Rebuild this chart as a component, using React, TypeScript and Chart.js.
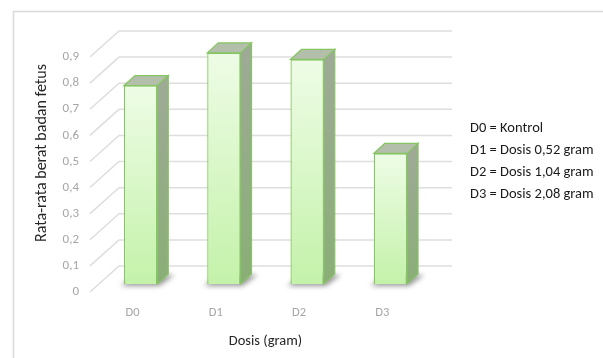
import React, { useEffect, useRef } from 'react';
import { Chart, registerables } from 'chart.js';

Chart.register(...registerables);

// Mean fetal body weight per dose group
const categories = ['D0', 'D1', 'D2', 'D3'];
const beratFetus = [0.76, 0.885, 0.86, 0.5];
const yTickValues = [0, 0.1, 0.2, 0.3, 0.4, 0.5, 0.6, 0.7, 0.8, 0.9];
const legendLines = [
  'D0 = Kontrol',
  'D1 = Dosis 0,52 gram',
  'D2 = Dosis 1,04 gram',
  'D3 = Dosis 2,08 gram',
];
const xTitle = 'Dosis (gram)';
const yTitle = 'Rata-rata berat badan fetus';

const FONT = "Carlito, Lato, 'Open Sans', sans-serif";

// pseudo-3D offsets (pixels) relative to the plane of the bar fronts
const BAR_DX = 11;
const BAR_DY = -10;
const BACK_DX = 20;
const BACK_DY = -18;
const FRONT_DX = -9;
const FRONT_DY = 8;

const fmt = (v: number) => (v === 0 ? '0' : v.toFixed(1).replace('.', ','));

const depthPlugin = {
  id: 'depth3d',
  beforeDraw(chart: any) {
    const { ctx, width, height } = chart;
    ctx.save();
    ctx.fillStyle = '#ffffff';
    ctx.fillRect(0, 0, width, height);
    ctx.strokeStyle = '#d9d9d9';
    ctx.lineWidth = 1.5;
    ctx.beginPath();
    ctx.moveTo(13.5, height + 2);
    ctx.lineTo(13.5, 11.5);
    ctx.lineTo(width + 2, 11.5);
    ctx.stroke();
    ctx.restore();
  },
  beforeDatasetsDraw(chart: any) {
    const { ctx, chartArea } = chart;
    const yScale = chart.scales.y;
    ctx.save();
    // back wall gridlines and side diagonals
    ctx.strokeStyle = '#dedede';
    ctx.lineWidth = 1.5;
    yTickValues.forEach((v) => {
      const y = yScale.getPixelForValue(v);
      ctx.beginPath();
      ctx.moveTo(chartArea.left + FRONT_DX, y + FRONT_DY);
      ctx.lineTo(chartArea.left + BACK_DX, y + BACK_DY);
      ctx.lineTo(chartArea.right + BACK_DX, y + BACK_DY);
      ctx.stroke();
    });

    const meta = chart.getDatasetMeta(0);
    meta.data.forEach((bar: any) => {
      const { x, y, base, width } = bar.getProps(['x', 'y', 'base', 'width'], true);
      const x1 = x - width / 2;
      const x2 = x + width / 2;

      // soft shadow on the floor
      ctx.save();
      ctx.filter = 'blur(2.5px)';
      ctx.fillStyle = 'rgba(70,70,70,0.55)';
      ctx.beginPath();
      ctx.moveTo(x1 - 3, base + 2);
      ctx.lineTo(x2 + 2, base + 2);
      ctx.lineTo(x2 + BAR_DX + 6, base + BAR_DY + 1);
      ctx.lineTo(x1 + BAR_DX, base + BAR_DY);
      ctx.closePath();
      ctx.fill();
      ctx.restore();

      // side face
      const sideGrad = ctx.createLinearGradient(0, y, 0, base);
      sideGrad.addColorStop(0, '#9eaa96');
      sideGrad.addColorStop(1, '#8aae77');
      ctx.fillStyle = sideGrad;
      ctx.strokeStyle = '#86c563';
      ctx.lineWidth = 1.2;
      ctx.beginPath();
      ctx.moveTo(x2, y);
      ctx.lineTo(x2 + BAR_DX, y + BAR_DY);
      ctx.lineTo(x2 + BAR_DX, base + BAR_DY);
      ctx.lineTo(x2, base);
      ctx.closePath();
      ctx.fill();
      ctx.stroke();

      // top face
      ctx.fillStyle = '#b3bfaa';
      ctx.beginPath();
      ctx.moveTo(x1, y);
      ctx.lineTo(x1 + BAR_DX, y + BAR_DY);
      ctx.lineTo(x2 + BAR_DX, y + BAR_DY);
      ctx.lineTo(x2, y);
      ctx.closePath();
      ctx.fill();
      ctx.stroke();
    });
    ctx.restore();
  },
  afterDraw(chart: any) {
    const { ctx } = chart;
    ctx.save();
    // vertical axis title
    ctx.fillStyle = '#262626';
    ctx.font = `16px ${FONT}`;
    ctx.textAlign = 'center';
    ctx.textBaseline = 'middle';
    ctx.translate(42, 153);
    ctx.rotate(-Math.PI / 2);
    ctx.fillText(yTitle, 0, 0);
    ctx.restore();

    // dose key
    ctx.save();
    ctx.fillStyle = '#1a1a1a';
    ctx.font = `14.5px ${FONT}`;
    ctx.textAlign = 'left';
    ctx.textBaseline = 'middle';
    legendLines.forEach((line, i) => {
      ctx.fillText(line, 470, 128 + i * 22);
    });
    ctx.restore();
  },
};

export default function App() {
  const canvasRef = useRef<HTMLCanvasElement | null>(null);

  useEffect(() => {
    if (!canvasRef.current) return;
    const chart = new Chart(canvasRef.current, {
      type: 'bar',
      data: {
        labels: categories,
        datasets: [
          {
            data: beratFetus,
            backgroundColor: (context: any) => {
              const c = context.chart;
              const yScale = c.scales && c.scales.y;
              if (!c.chartArea || !yScale || context.raw === undefined) return '#d8f8c6';
              const top = yScale.getPixelForValue(context.raw);
              const bottom = yScale.getPixelForValue(0);
              if (!isFinite(top) || !isFinite(bottom) || top === bottom) return '#d8f8c6';
              const g = c.ctx.createLinearGradient(0, top, 0, bottom);
              g.addColorStop(0, '#eefce6');
              g.addColorStop(1, '#c4f2aa');
              return g;
            },
            borderColor: '#86c563',
            borderWidth: 1.3,
            barPercentage: 0.4,
            categoryPercentage: 1,
          },
        ],
      },
      options: {
        responsive: true,
        maintainAspectRatio: false,
        animation: false,
        layout: { padding: { left: 0, right: 171, top: 49, bottom: 0 } },
        plugins: {
          legend: { display: false },
          tooltip: { enabled: false },
        },
        scales: {
          x: {
            grid: { display: false, drawTicks: false },
            border: { display: false },
            ticks: {
              color: '#a6a6a6',
              font: { size: 12.5, family: FONT },
              padding: 21,
              labelOffset: -8,
              maxRotation: 0,
            },
            title: {
              display: true,
              text: xTitle,
              color: '#262626',
              font: { size: 14.5, family: FONT },
              padding: { top: 0, bottom: 7.6 },
            },
            afterFit: (scale: any) => {
              scale.height = 74;
            },
          },
          y: {
            min: 0,
            max: 0.9,
            grid: { display: false, drawTicks: false },
            border: { display: false },
            ticks: {
              stepSize: 0.1,
              color: '#a6a6a6',
              font: { size: 13, family: FONT },
              padding: 20,
              labelOffset: 8,
              callback: (value: any) => fmt(Number(value)),
            },
            afterFit: (scale: any) => {
              scale.width = 99;
            },
          },
        },
      },
      plugins: [depthPlugin],
    });
    return () => chart.destroy();
  }, []);

  return (
    <div style={{ position: 'absolute', left: 0, top: 0, width: 603, height: 358 }}>
      <canvas ref={canvasRef} />
    </div>
  );
}
